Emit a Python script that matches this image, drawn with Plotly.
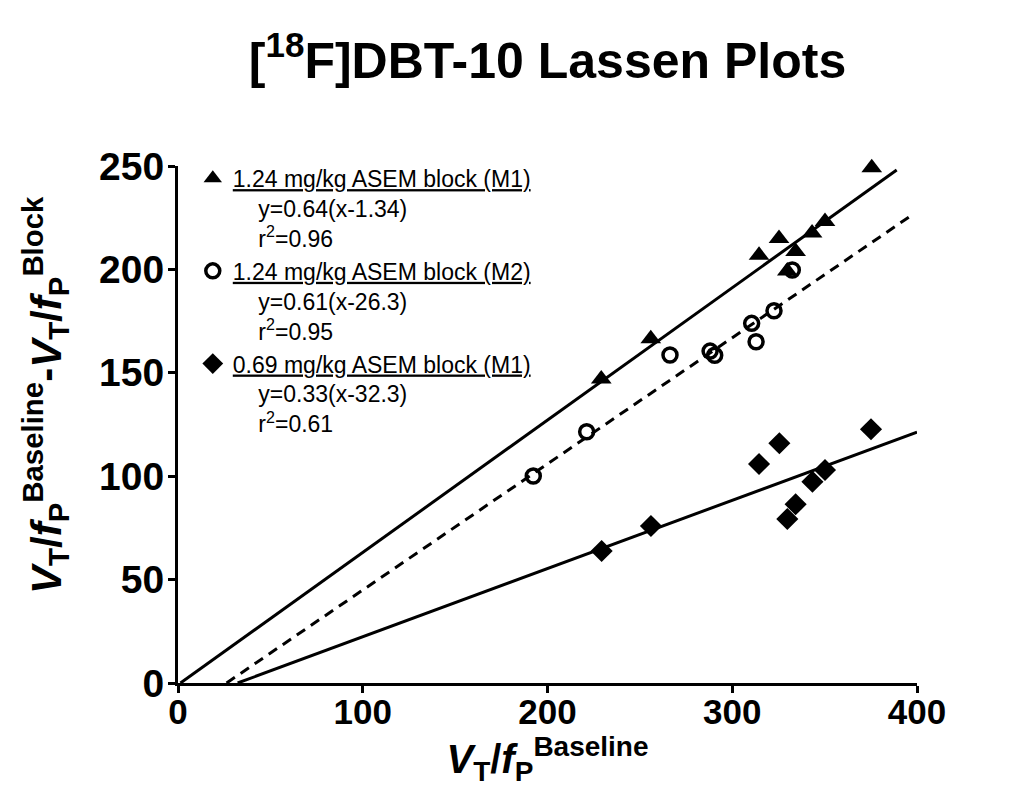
import plotly.graph_objects as go

# ---- data ----
m1_124_x = [375.5, 350.2, 343.2, 325.3, 334.3, 314.5, 329.8, 255.9, 229.1]
m1_124_y = [249.2, 223.2, 217.6, 214.9, 208.7, 206.8, 199.2, 166.5, 147.0]

m2_124_x = [192.3, 221.2, 266.3, 288.0, 290.5, 310.5, 312.9, 322.6, 332.5]
m2_124_y = [100.1, 121.5, 158.6, 160.5, 158.5, 173.9, 165.0, 180.0, 199.7]

m1_069_x = [229.3, 256.0, 314.5, 325.5, 329.8, 334.3, 343.4, 350.2, 375.1]
m1_069_y = [63.8, 75.9, 105.9, 115.9, 79.3, 86.4, 97.3, 103.0, 122.7]

# fits y = slope * (x - x_intercept), drawn from x_intercept to x_end
fit_slopes = [0.64, 0.61, 0.33]
fit_xint = [1.34, 26.3, 32.3]
fit_xend = [389, 396, 400]
fit_dash = ["solid", "10px,7px", "solid"]

series_names = [
    "1.24 mg/kg ASEM block (M1)",
    "1.24 mg/kg ASEM block (M2)",
    "0.69 mg/kg ASEM block (M1)",
]
series_eq = ["y=0.64(x-1.34)", "y=0.61(x-26.3)", "y=0.33(x-32.3)"]
series_r2 = ["0.96", "0.95", "0.61"]

x_ticks = [0, 100, 200, 300, 400]
y_ticks = [0, 50, 100, 150, 200, 250]

FONT = "Liberation Sans, Arial, sans-serif"
fig = go.Figure()

# fit lines
for s, xi, xe, d in zip(fit_slopes, fit_xint, fit_xend, fit_dash):
    xs = [xi, xe]
    ys = [s * (v - xi) for v in xs]
    fig.add_trace(go.Scatter(x=xs, y=ys, mode="lines", showlegend=False,
                             line=dict(color="black", width=3, dash=d),
                             cliponaxis=False, hoverinfo="skip"))

ind = "\u00a0" * 4


def label(i):
    return (f"<u>{series_names[i]}</u><br>{ind}{series_eq[i]}"
            f"<br>{ind}r<sup>2</sup>={series_r2[i]}")


fig.add_trace(go.Scatter(x=m1_124_x, y=m1_124_y, mode="markers", name=label(0),
                         legendgroup="a",
                         marker=dict(symbol="triangle-up", size=18, color="black"),
                         cliponaxis=False))
fig.add_trace(go.Scatter(x=m2_124_x, y=m2_124_y, mode="markers", name=label(1),
                         legendgroup="b",
                         marker=dict(symbol="circle-open", size=14, color="black",
                                     line=dict(width=3.5, color="black")),
                         cliponaxis=False))
fig.add_trace(go.Scatter(x=m1_069_x, y=m1_069_y, mode="markers", name=label(2),
                         legendgroup="c",
                         marker=dict(symbol="diamond", size=17, color="black"),
                         cliponaxis=False))

axis_common = dict(
    showline=True, linecolor="black", linewidth=3,
    ticks="outside", ticklen=7, tickwidth=3, tickcolor="black",
    showgrid=False, zeroline=False,
)

# page body adds an 8px offset; figure is sized to sit in the 1018x788 window
W, H = 1010, 780
fig.update_layout(
    width=W, height=H,
    paper_bgcolor="white", plot_bgcolor="white",
    margin=dict(l=170, r=101, t=158, b=105),
    title=dict(text="[<sup>18</sup>F]DBT-10 Lassen Plots",
               x=0.5, xref="paper", xanchor="center",
               y=1 - 52 / H, yanchor="middle",
               font=dict(family=FONT, size=50, color="black", weight="bold")),
    xaxis=dict(range=[0, 400], tickvals=x_ticks, ticklabelstandoff=-11,
               tickfont=dict(family=FONT, size=35, color="black", weight="bold"),
               title=dict(text="<i>V</i><sub>T</sub>/<i>f</i><sub>P</sub><sup>Baseline</sup>",
                          font=dict(family=FONT, size=40, color="black", weight="bold"),
                          standoff=10),
               **axis_common),
    yaxis=dict(range=[0, 250], tickvals=y_ticks, ticklabelstandoff=-4,
               tickfont=dict(family=FONT, size=39, color="black", weight="bold"),
               **axis_common),
    legend=dict(x=0.020, y=1.018, xanchor="left", yanchor="top",
                bgcolor="rgba(0,0,0,0)", valign="top", tracegroupgap=0,
                font=dict(family=FONT, size=23, color="black")),
    showlegend=True,
)

# y-axis title as a rotated annotation (placed like the reference, above plot centre)
fig.add_annotation(
    text="<i>V</i><sub>T</sub>/<i>f</i><sub>P</sub><sup>Baseline</sup>-"
         "<i>V</i><sub>T</sub>/<i>f</i><sub>P</sub><sup>Block</sup>",
    xref="paper", yref="paper", x=-0.180, y=0.557,
    xanchor="center", yanchor="middle", textangle=-90, showarrow=False,
    font=dict(family=FONT, size=42, color="black", weight="bold"),
)

fig.write_html("out.html")
